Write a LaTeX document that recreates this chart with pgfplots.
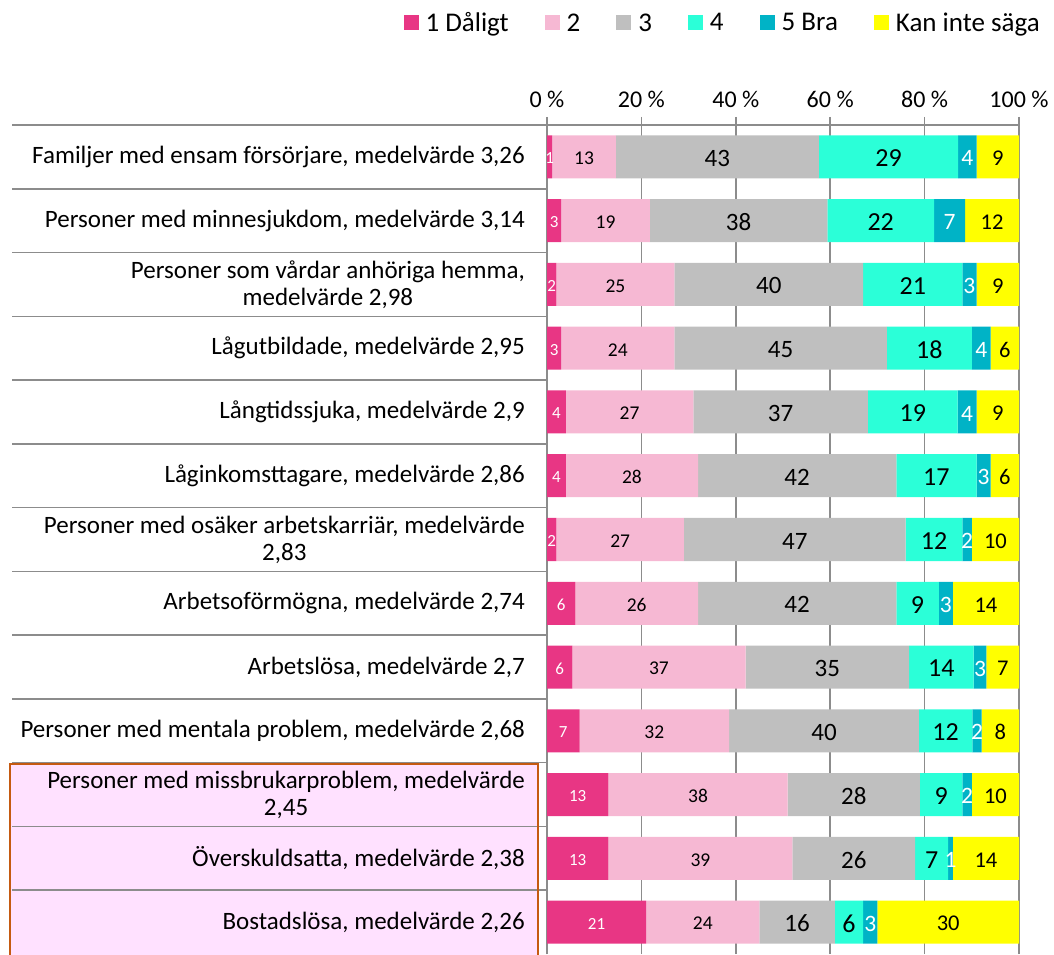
\documentclass[border=0pt]{standalone}
\usepackage{pgfplots}
\pgfplotsset{compat=1.18}
\usepackage{pgfplotstable}
\usepackage{fontspec}
\setmainfont{Carlito}
\definecolor{c1}{RGB}{232,54,132}
\definecolor{c2}{RGB}{246,184,211}
\definecolor{c3}{RGB}{191,191,191}
\definecolor{c4}{RGB}{43,255,216}
\definecolor{c5}{RGB}{0,179,198}
\definecolor{c6}{RGB}{255,255,0}
\definecolor{linegray}{RGB}{140,140,140}
\definecolor{boxfill}{RGB}{255,225,255}
\definecolor{boxborder}{RGB}{197,90,17}
\pgfplotstableread{
y v1 v2 v3 v4 v5 v6 l1 l2 l3 l4 l5 l6
13 1.1 13.5 43.0 29.5 3.9 9.0 1 13 43 29 4 9
12 3.0 18.8 37.6 22.6 6.6 11.4 3 19 38 22 7 12
11 2 25 40 21 3 9 2 25 40 21 3 9
10 3 24 45 18 4 6 3 24 45 18 4 6
9 4 27 37 19 4 9 4 27 37 19 4 9
8 4 28 42 17 3 6 4 28 42 17 3 6
7 2 27 47 12 2 10 2 27 47 12 2 10
6 6 26 42 9 3 14 6 26 42 9 3 14
5 5.35 36.75 34.6 13.7 2.7 6.9 6 37 35 14 3 7
4 6.9 31.7 40.2 11.3 2.0 7.9 7 32 40 12 2 8
3 13 38 28 9 2 10 13 38 28 9 2 10
2 13 39 26 7 1 14 13 39 26 7 1 14
1 21 24 16 6 3 30 21 24 16 6 3 30
}\data
\newcommand\fs[1]{\fontsize{#1}{#1}\selectfont}
\begin{document}
\begin{tikzpicture}[x=1pt,y=1pt]
\useasboundingbox (0,0) rectangle (1054,954);
\fill[boxfill] (10,-5) rectangle (538,190);
\foreach \k in {1,...,12} \draw[linegray, line width=1.5pt] (12,{829-\k*829/13}) -- (547,{829-\k*829/13});
\draw[linegray, line width=1.5pt] (12,829) -- (547,829);
\begin{axis}[
  at={(547pt,0pt)}, anchor=south west,
  scale only axis, width=472pt, height=829pt,
  xbar stacked, bar width=43pt,
  xmin=0, xmax=100, ymin=0.5, ymax=13.5,
  axis x line=top, axis y line=left,
  axis line style={-, linegray, line width=1.5pt},
  xtick={0,20,40,60,80,100},
  xticklabels={0 \%,20 \%,40 \%,60 \%,80 \%,100 \%},
  xticklabel style={font=\fs{24}, inner sep=0pt, anchor=base, yshift=9pt},
  tick align=outside, major tick length=8pt,
  xtick style={linegray, line width=1.5pt},
  xmajorgrids, grid style={linegray, line width=1.5pt},
  ytick={1,...,13},
  ytick style={draw=none},
  yticklabels={{Bostadslösa, medelvärde 2,26},{Överskuldsatta, medelvärde 2,38},{Personer med missbrukarproblem, medelvärde\\2,45},{Personer med mentala problem, medelvärde 2,68},{Arbetslösa, medelvärde 2,7},{Arbetsoförmögna, medelvärde 2,74},{Personer med osäker arbetskarriär, medelvärde\\2,83},{Låginkomsttagare, medelvärde 2,86},{Långtidssjuka, medelvärde 2,9},{Lågutbildade, medelvärde 2,95},{Personer som vårdar anhöriga hemma,\\medelvärde 2,98},{Personer med minnesjukdom, medelvärde 3,14},{Familjer med ensam försörjare, medelvärde 3,26}},
  yticklabel style={font=\fontsize{25}{27}\selectfont, align=center, inner sep=0pt, anchor=east, xshift=-14pt},
  point meta=explicit symbolic,
  legend columns=6,
  legend style={draw=none, fill=none, inner sep=0pt, at={(1.0445,1.1230)}, anchor=east, font=\fs{27}, nodes={inner sep=0pt},
    /tikz/every odd column/.append style={column sep=7pt},
    /tikz/every even column/.append style={column sep=36pt}},
  legend image code/.code={\fill[#1] (0pt,-7pt) rectangle (15pt,8pt);},
  nodes near coords,
  every node near coord/.append style={anchor=center, yshift=-1.5pt},
]
\addplot[fill=c1, draw=none, nodes near coords style={text=white, font=\fs{17}}] table[x=v1, y=y, meta=l1] {\data};
\addplot[fill=c2, draw=none, nodes near coords style={text=black, font=\fs{19.5}}] table[x=v2, y=y, meta=l2] {\data};
\addplot[fill=c3, draw=none, nodes near coords style={text=black, font=\fs{25}}] table[x=v3, y=y, meta=l3] {\data};
\addplot[fill=c4, draw=none, nodes near coords style={text=black, font=\fs{26}}] table[x=v4, y=y, meta=l4] {\data};
\addplot[fill=c5, draw=none, nodes near coords style={text=white, font=\fs{23.5}}] table[x=v5, y=y, meta=l5] {\data};
\addplot[fill=c6, draw=none, nodes near coords style={text=black, font=\fs{22.5}}] table[x=v6, y=y, meta=l6] {\data};
\legend{1 Dåligt,2,3,4,5 Bra,Kan inte säga}
\end{axis}
\draw[boxborder, line width=2.2pt] (10,-5) rectangle (538,190);
\end{tikzpicture}
\end{document}
